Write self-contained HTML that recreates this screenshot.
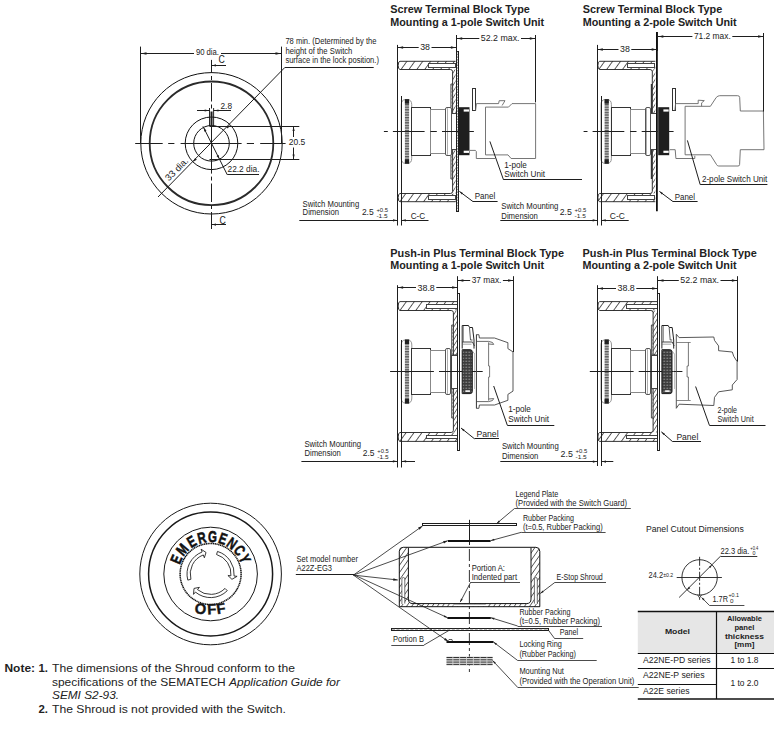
<!DOCTYPE html>
<html><head><meta charset="utf-8"><style>
html,body{margin:0;padding:0;background:#fff;}
svg{display:block;font-family:"Liberation Sans",sans-serif;}
</style></head><body>
<svg width="774" height="729" viewBox="0 0 774 729">
<rect width="774" height="729" fill="#fff"/>
<defs>
<pattern id="hatch" patternUnits="userSpaceOnUse" width="6.4" height="6.4" patternTransform="rotate(36)">
<rect width="6.4" height="6.4" fill="#fff"/><line x1="0" y1="0" x2="0" y2="6.4" stroke="#111" stroke-width="1.35"/></pattern>
<pattern id="ribs" patternUnits="userSpaceOnUse" width="4" height="2.6">
<rect width="4" height="2.6" fill="#555"/><rect y="1.4" width="4" height="1.0" fill="#e0e0e0"/></pattern>
<pattern id="hatchv" patternUnits="userSpaceOnUse" width="3.3" height="3.3" patternTransform="rotate(32)">
<rect width="3.3" height="3.3" fill="#fff"/><line x1="0" y1="0" x2="0" y2="3.3" stroke="#111" stroke-width="1.1"/></pattern>
<pattern id="grid" patternUnits="userSpaceOnUse" width="3" height="3">
<rect width="3" height="3" fill="#3c3c3c"/><rect x="0.4" y="0.7" width="1.8" height="1.1" fill="#8a8a8a"/></pattern>
</defs>
<path d="M400.00,61.30 L455.60,61.30 L455.60,69.50 L400.00,69.50 Q398.20,69.50 398.20,65.40 Q398.20,61.30 400.00,61.30 Z" fill="url(#hatch)" stroke="#1e1e1e" stroke-width="0" stroke="none"/>
<path d="M452.60,69.50 L455.60,69.50 L455.60,113.50 L452.60,113.50 Z" fill="url(#hatchv)" stroke="#1e1e1e" stroke-width="0" stroke="none"/>
<path d="M455.60,61.30 L400.00,61.30 Q398.20,61.30 398.20,65.40 Q398.20,69.50 400.00,69.50 L450.40,69.50 Q452.60,69.50 452.60,71.70 L452.60,113.50 L455.60,113.50" fill="none" stroke="#1e1e1e" stroke-width="0.9" />
<rect x="428.50" y="63.50" width="27.00" height="4.00" fill="#fff" stroke="#444" stroke-width="1.0" />
<path d="M452.60,84.00 L450.90,84.00 L450.90,113.50 L452.60,113.50" fill="none" stroke="#222" stroke-width="0.8" />
<line x1="451.75" y1="84.00" x2="451.75" y2="113.50" stroke="#666" stroke-width="0.6" stroke-dasharray="2,1.5"/>
<path d="M400.00,201.70 L455.60,201.70 L455.60,193.50 L400.00,193.50 Q398.20,193.50 398.20,197.60 Q398.20,201.70 400.00,201.70 Z" fill="url(#hatch)" stroke="#1e1e1e" stroke-width="0" stroke="none"/>
<path d="M452.60,193.50 L455.60,193.50 L455.60,149.50 L452.60,149.50 Z" fill="url(#hatchv)" stroke="#1e1e1e" stroke-width="0" stroke="none"/>
<path d="M455.60,201.70 L400.00,201.70 Q398.20,201.70 398.20,197.60 Q398.20,193.50 400.00,193.50 L450.40,193.50 Q452.60,193.50 452.60,191.30 L452.60,149.50 L455.60,149.50" fill="none" stroke="#1e1e1e" stroke-width="0.9" />
<rect x="428.50" y="195.50" width="27.00" height="4.00" fill="#fff" stroke="#444" stroke-width="1.0" />
<path d="M452.60,179.00 L450.90,179.00 L450.90,149.50 L452.60,149.50" fill="none" stroke="#222" stroke-width="0.8" />
<line x1="451.75" y1="179.00" x2="451.75" y2="149.50" stroke="#666" stroke-width="0.6" stroke-dasharray="2,1.5"/>
<rect x="451.50" y="113.50" width="5.00" height="36.00" fill="#fff" stroke="#444" stroke-width="1.0" />
<rect x="456.50" y="51.50" width="2.00" height="160.00" fill="#fff" stroke="#1e1e1e" stroke-width="1.0" />
<line x1="457.45" y1="51" x2="457.45" y2="211.2" stroke="#444" stroke-width="0.6" stroke-dasharray="1.5,1.2"/>
<rect x="401.30" y="99.70" width="10.40" height="63.60" fill="#fff" stroke="#1e1e1e" stroke-width="0" rx="4"/>
<path d="M405.30,99.70 L407.70,99.70 Q411.70,99.70 411.70,104.70 L411.70,158.30 Q411.70,163.30 407.70,163.30 L405.30,163.30 Q401.30,163.30 401.30,158.30 L401.30,104.70 Q401.30,99.70 405.30,99.70 Z" fill="none" stroke="#888" stroke-width="0.9" />
<rect x="404.90" y="99.20" width="4.20" height="64.60" fill="url(#ribs)" stroke="#1e1e1e" stroke-width="0" />
<rect x="404.90" y="99.20" width="4.20" height="4.50" fill="#222" stroke="#1e1e1e" stroke-width="0" />
<rect x="404.90" y="159.30" width="4.20" height="4.50" fill="#222" stroke="#1e1e1e" stroke-width="0" />
<rect x="411.50" y="107.50" width="19.00" height="48.00" fill="#fff" stroke="#333" stroke-width="1.0" />
<rect x="430.50" y="109.50" width="15.00" height="44.00" fill="#fff" stroke="#888" stroke-width="1.0" />
<rect x="445.50" y="107.50" width="6.00" height="48.00" fill="#fff" stroke="#555" stroke-width="1.0" rx="1.5"/>
<line x1="447.50" y1="108.20" x2="447.50" y2="154.80" stroke="#777" stroke-width="0.6" />
<line x1="383.90" y1="131.50" x2="387.80" y2="131.50" stroke="#1e1e1e" stroke-width="1.0" />
<line x1="392.90" y1="131.50" x2="424.60" y2="131.50" stroke="#1e1e1e" stroke-width="1.0" />
<line x1="430.40" y1="131.50" x2="436.80" y2="131.50" stroke="#1e1e1e" stroke-width="1.0" />
<line x1="442.00" y1="131.50" x2="458.00" y2="131.50" stroke="#1e1e1e" stroke-width="1.0" />
<line x1="469.10" y1="131.50" x2="473.70" y2="131.50" stroke="#1e1e1e" stroke-width="1.0" />
<rect x="458.50" y="107.20" width="11.00" height="48.00" fill="#1e1e1e" stroke="#1e1e1e" stroke-width="0" />
<rect x="463.70" y="109.40" width="5.30" height="2.20" fill="#fff" stroke="#1e1e1e" stroke-width="0" />
<rect x="463.70" y="150.70" width="5.30" height="2.20" fill="#fff" stroke="#1e1e1e" stroke-width="0" />
<rect x="472.50" y="88.50" width="3.00" height="22.00" fill="#fff" stroke="#333" stroke-width="1.0" />
<line x1="469.50" y1="131.50" x2="473.60" y2="131.50" stroke="#1e1e1e" stroke-width="1.0" />
<path d="M475.6,110.6 L476.4,103.6 L498.6,103.6 L499.2,100.7 L505,100.7 L502.1,105.5 M485.5,107.1 L508.5,107.1 L512,103.6 L535.6,103.6 L535.6,158.5 L511.1,158.5 L508,154.9 L485.5,154.9 L485.5,107.1 M470,150.4 L475.4,150.4 L476.3,151.5 L476.3,158.5 L495.3,158.5" fill="none" stroke="#666" stroke-width="0.9" />
<path d="M599.70,61.30 L655.30,61.30 L655.30,69.50 L599.70,69.50 Q597.90,69.50 597.90,65.40 Q597.90,61.30 599.70,61.30 Z" fill="url(#hatch)" stroke="#1e1e1e" stroke-width="0" stroke="none"/>
<path d="M652.30,69.50 L655.30,69.50 L655.30,113.50 L652.30,113.50 Z" fill="url(#hatchv)" stroke="#1e1e1e" stroke-width="0" stroke="none"/>
<path d="M655.30,61.30 L599.70,61.30 Q597.90,61.30 597.90,65.40 Q597.90,69.50 599.70,69.50 L650.10,69.50 Q652.30,69.50 652.30,71.70 L652.30,113.50 L655.30,113.50" fill="none" stroke="#1e1e1e" stroke-width="0.9" />
<rect x="627.50" y="63.50" width="27.00" height="4.00" fill="#fff" stroke="#444" stroke-width="1.0" />
<rect x="650.80" y="84.00" width="1.50" height="29.50" fill="#333" stroke="#1e1e1e" stroke-width="0" />
<path d="M599.70,201.70 L655.30,201.70 L655.30,193.50 L599.70,193.50 Q597.90,193.50 597.90,197.60 Q597.90,201.70 599.70,201.70 Z" fill="url(#hatch)" stroke="#1e1e1e" stroke-width="0" stroke="none"/>
<path d="M652.30,193.50 L655.30,193.50 L655.30,149.50 L652.30,149.50 Z" fill="url(#hatchv)" stroke="#1e1e1e" stroke-width="0" stroke="none"/>
<path d="M655.30,201.70 L599.70,201.70 Q597.90,201.70 597.90,197.60 Q597.90,193.50 599.70,193.50 L650.10,193.50 Q652.30,193.50 652.30,191.30 L652.30,149.50 L655.30,149.50" fill="none" stroke="#1e1e1e" stroke-width="0.9" />
<rect x="627.50" y="195.50" width="27.00" height="4.00" fill="#fff" stroke="#444" stroke-width="1.0" />
<rect x="650.80" y="149.50" width="1.50" height="29.50" fill="#333" stroke="#1e1e1e" stroke-width="0" />
<rect x="650.50" y="113.50" width="6.00" height="36.00" fill="#fff" stroke="#444" stroke-width="1.0" />
<line x1="656.90" y1="32.00" x2="656.90" y2="211.20" stroke="#111" stroke-width="1.8" />
<rect x="601.00" y="99.70" width="10.40" height="63.60" fill="#fff" stroke="#1e1e1e" stroke-width="0" rx="4"/>
<path d="M605.00,99.70 L607.40,99.70 Q611.40,99.70 611.40,104.70 L611.40,158.30 Q611.40,163.30 607.40,163.30 L605.00,163.30 Q601.00,163.30 601.00,158.30 L601.00,104.70 Q601.00,99.70 605.00,99.70 Z" fill="none" stroke="#888" stroke-width="0.9" />
<rect x="604.60" y="99.20" width="4.20" height="64.60" fill="url(#ribs)" stroke="#1e1e1e" stroke-width="0" />
<rect x="604.60" y="99.20" width="4.20" height="4.50" fill="#222" stroke="#1e1e1e" stroke-width="0" />
<rect x="604.60" y="159.30" width="4.20" height="4.50" fill="#222" stroke="#1e1e1e" stroke-width="0" />
<rect x="611.50" y="107.50" width="19.00" height="48.00" fill="#fff" stroke="#333" stroke-width="1.0" />
<rect x="630.50" y="109.50" width="15.00" height="44.00" fill="#fff" stroke="#888" stroke-width="1.0" />
<rect x="645.50" y="107.50" width="5.00" height="48.00" fill="#fff" stroke="#555" stroke-width="1.0" rx="1.5"/>
<line x1="646.50" y1="108.20" x2="646.50" y2="154.80" stroke="#777" stroke-width="0.6" />
<line x1="583.60" y1="131.50" x2="587.50" y2="131.50" stroke="#1e1e1e" stroke-width="1.0" />
<line x1="592.60" y1="131.50" x2="624.30" y2="131.50" stroke="#1e1e1e" stroke-width="1.0" />
<line x1="630.10" y1="131.50" x2="636.50" y2="131.50" stroke="#1e1e1e" stroke-width="1.0" />
<line x1="641.70" y1="131.50" x2="657.70" y2="131.50" stroke="#1e1e1e" stroke-width="1.0" />
<line x1="668.80" y1="131.50" x2="673.40" y2="131.50" stroke="#1e1e1e" stroke-width="1.0" />
<rect x="658.20" y="107.20" width="11.00" height="48.00" fill="#1e1e1e" stroke="#1e1e1e" stroke-width="0" />
<rect x="663.40" y="109.40" width="5.30" height="2.20" fill="#fff" stroke="#1e1e1e" stroke-width="0" />
<rect x="663.40" y="150.70" width="5.30" height="2.20" fill="#fff" stroke="#1e1e1e" stroke-width="0" />
<rect x="672.50" y="88.50" width="3.00" height="22.00" fill="#fff" stroke="#333" stroke-width="1.0" />
<line x1="669.20" y1="131.50" x2="673.30" y2="131.50" stroke="#1e1e1e" stroke-width="1.0" />
<path d="M674.9,110.4 L675.5999999999999,103.6 L698.2,103.6 L698.2,100.2 L704.3,100.6 L701.5999999999999,102.9 L701.5999999999999,106.3 M685.0999999999999,106.3 L710.4,106.3 L716.2,97.5 Q717.9000000000001,95.7 719.7,95.7 L737.7,95.7 Q739.5999999999999,95.7 739.7,97.5 L740.3,111 L763.4000000000001,111 L764.0,149.7 L740.3,149.7 L739.5999999999999,164.5 Q739.5999999999999,166 738.0,166 L718.7,166 Q717.2,166 716.5,164.5 L710.4,154.8 L685.0999999999999,154.8 L685.0999999999999,106.3 M669.7,149.7 L675.2,149.7 L675.9,158.5 L694.8,158.5 L694.8,155.8" fill="none" stroke="#666" stroke-width="0.9" />
<path d="M400.00,301.60 L457.80,301.60 L457.80,310.50 L400.00,310.50 Q398.20,310.50 398.20,306.05 Q398.20,301.60 400.00,301.60 Z" fill="url(#hatch)" stroke="#1e1e1e" stroke-width="0" stroke="none"/>
<path d="M453.40,310.50 L457.80,310.50 L457.80,355.00 L453.40,355.00 Z" fill="url(#hatchv)" stroke="#1e1e1e" stroke-width="0" stroke="none"/>
<path d="M457.80,301.60 L400.00,301.60 Q398.20,301.60 398.20,306.05 Q398.20,310.50 400.00,310.50 L451.20,310.50 Q453.40,310.50 453.40,312.70 L453.40,355.00 L457.80,355.00" fill="none" stroke="#1e1e1e" stroke-width="0.9" />
<rect x="426.50" y="304.50" width="31.00" height="4.00" fill="#fff" stroke="#444" stroke-width="1.0" />
<path d="M453.40,325.00 L451.70,325.00 L451.70,355.00 L453.40,355.00" fill="none" stroke="#222" stroke-width="0.8" />
<line x1="452.55" y1="325.00" x2="452.55" y2="355.00" stroke="#666" stroke-width="0.6" stroke-dasharray="2,1.5"/>
<path d="M400.00,441.40 L457.80,441.40 L457.80,432.50 L400.00,432.50 Q398.20,432.50 398.20,436.95 Q398.20,441.40 400.00,441.40 Z" fill="url(#hatch)" stroke="#1e1e1e" stroke-width="0" stroke="none"/>
<path d="M453.40,432.50 L457.80,432.50 L457.80,388.00 L453.40,388.00 Z" fill="url(#hatchv)" stroke="#1e1e1e" stroke-width="0" stroke="none"/>
<path d="M457.80,441.40 L400.00,441.40 Q398.20,441.40 398.20,436.95 Q398.20,432.50 400.00,432.50 L451.20,432.50 Q453.40,432.50 453.40,430.30 L453.40,388.00 L457.80,388.00" fill="none" stroke="#1e1e1e" stroke-width="0.9" />
<rect x="426.50" y="435.50" width="31.00" height="3.00" fill="#fff" stroke="#444" stroke-width="1.0" />
<path d="M453.40,418.00 L451.70,418.00 L451.70,388.00 L453.40,388.00" fill="none" stroke="#222" stroke-width="0.8" />
<line x1="452.55" y1="418.00" x2="452.55" y2="388.00" stroke="#666" stroke-width="0.6" stroke-dasharray="2,1.5"/>
<rect x="451.50" y="355.50" width="6.00" height="33.00" fill="#fff" stroke="#444" stroke-width="1.0" />
<rect x="457.50" y="293.50" width="2.00" height="157.00" fill="#fff" stroke="#222" stroke-width="1.0" />
<rect x="401.30" y="340.00" width="10.50" height="63.00" fill="#fff" stroke="#1e1e1e" stroke-width="0" rx="4"/>
<path d="M405.30,340.00 L407.80,340.00 Q411.80,340.00 411.80,345.00 L411.80,398.00 Q411.80,403.00 407.80,403.00 L405.30,403.00 Q401.30,403.00 401.30,398.00 L401.30,345.00 Q401.30,340.00 405.30,340.00 Z" fill="none" stroke="#888" stroke-width="0.9" />
<rect x="404.90" y="339.50" width="4.20" height="64.00" fill="url(#ribs)" stroke="#1e1e1e" stroke-width="0" />
<rect x="404.90" y="339.50" width="4.20" height="4.50" fill="#222" stroke="#1e1e1e" stroke-width="0" />
<rect x="404.90" y="399.00" width="4.20" height="4.50" fill="#222" stroke="#1e1e1e" stroke-width="0" />
<rect x="411.50" y="348.50" width="19.00" height="46.00" fill="#fff" stroke="#333" stroke-width="1.0" />
<rect x="430.50" y="350.50" width="15.00" height="42.00" fill="#fff" stroke="#888" stroke-width="1.0" />
<rect x="445.50" y="348.50" width="5.00" height="46.00" fill="#fff" stroke="#555" stroke-width="1.0" rx="1.5"/>
<line x1="447.50" y1="349.10" x2="447.50" y2="393.90" stroke="#777" stroke-width="0.6" />
<line x1="390.10" y1="371.50" x2="433.90" y2="371.50" stroke="#1e1e1e" stroke-width="1.0" />
<line x1="439.00" y1="371.50" x2="474.00" y2="371.50" stroke="#1e1e1e" stroke-width="1.0" />
<path d="M462.20,348.60 L462.20,325.50 L468.50,325.50 L469.50,327.50 L472.50,327.50 L474.00,340.00 L474.00,348.60" fill="none" stroke="#222" stroke-width="1.0" />
<line x1="463.50" y1="326.00" x2="463.50" y2="342.00" stroke="#555" stroke-width="0.6" />
<path d="M469.50,328.00 L470.50,340.00 L472.50,340.00" fill="none" stroke="#333" stroke-width="0.8" />
<path d="M462.20,342.00 L472.50,342.00 L474.50,346.00" fill="none" stroke="#333" stroke-width="0.9" />
<path d="M462.20,344.20 L471.50,344.20" fill="none" stroke="#666" stroke-width="0.6" />
<rect x="462.20" y="349.70" width="10.10" height="43.90" fill="url(#grid)" stroke="#1e1e1e" stroke-width="0" rx="2"/>
<path d="M462.20,349.70 L470.20,349.70 Q472.30,349.70 472.30,352.00 L472.30,391.50 Q472.30,393.60 470.20,393.60 L462.20,393.60 Z" fill="none" stroke="#1a1a1a" stroke-width="1.0" />
<rect x="465.40" y="390.30" width="4.50" height="1.60" fill="#fff" stroke="#1e1e1e" stroke-width="0" />
<line x1="472.30" y1="351.00" x2="474.70" y2="354.00" stroke="#777" stroke-width="0.6" />
<line x1="474.50" y1="354.00" x2="474.50" y2="389.00" stroke="#999" stroke-width="0.6" />
<line x1="474.00" y1="371.50" x2="482.70" y2="371.50" stroke="#1e1e1e" stroke-width="1.0" />
<path d="M476.40,408.30 476.40,334.70 L478.90,334.70 L479.40,338.00 L494.50,338.00 L507.90,342.70 L507.90,348.60 L513.00,351.90 L513.00,391.10 L507.90,394.40 L507.90,400.30 L494.50,405.00 L479.40,405.00 L478.90,408.30 L476.40,408.30" fill="none" stroke="#444" stroke-width="0.9" />
<line x1="476.50" y1="334.70" x2="476.50" y2="408.30" stroke="#444" stroke-width="0.9" />
<path d="M476.4,341.4 L488.6,341.4 Q493.7,342 493.7,344.4 L488.6,344" fill="none" stroke="#444" stroke-width="0.8" />
<path d="M476.4,401.6 L488.6,401.6 Q493.7,401.0 493.7,398.6 L488.6,399.0" fill="none" stroke="#444" stroke-width="0.8" />
<path d="M488.6,342.3 L488.6,366 L489.6,366 L489.6,377 L488.6,377 L488.6,400.7" fill="none" stroke="#555" stroke-width="0.8" />
<path d="M599.70,301.60 L657.50,301.60 L657.50,310.50 L599.70,310.50 Q597.90,310.50 597.90,306.05 Q597.90,301.60 599.70,301.60 Z" fill="url(#hatch)" stroke="#1e1e1e" stroke-width="0" stroke="none"/>
<path d="M653.10,310.50 L657.50,310.50 L657.50,355.00 L653.10,355.00 Z" fill="url(#hatchv)" stroke="#1e1e1e" stroke-width="0" stroke="none"/>
<path d="M657.50,301.60 L599.70,301.60 Q597.90,301.60 597.90,306.05 Q597.90,310.50 599.70,310.50 L650.90,310.50 Q653.10,310.50 653.10,312.70 L653.10,355.00 L657.50,355.00" fill="none" stroke="#1e1e1e" stroke-width="0.9" />
<rect x="626.50" y="304.50" width="31.00" height="4.00" fill="#fff" stroke="#444" stroke-width="1.0" />
<path d="M653.10,325.00 L651.40,325.00 L651.40,355.00 L653.10,355.00" fill="none" stroke="#222" stroke-width="0.8" />
<line x1="652.25" y1="325.00" x2="652.25" y2="355.00" stroke="#666" stroke-width="0.6" stroke-dasharray="2,1.5"/>
<path d="M599.70,441.40 L657.50,441.40 L657.50,432.50 L599.70,432.50 Q597.90,432.50 597.90,436.95 Q597.90,441.40 599.70,441.40 Z" fill="url(#hatch)" stroke="#1e1e1e" stroke-width="0" stroke="none"/>
<path d="M653.10,432.50 L657.50,432.50 L657.50,388.00 L653.10,388.00 Z" fill="url(#hatchv)" stroke="#1e1e1e" stroke-width="0" stroke="none"/>
<path d="M657.50,441.40 L599.70,441.40 Q597.90,441.40 597.90,436.95 Q597.90,432.50 599.70,432.50 L650.90,432.50 Q653.10,432.50 653.10,430.30 L653.10,388.00 L657.50,388.00" fill="none" stroke="#1e1e1e" stroke-width="0.9" />
<rect x="626.50" y="435.50" width="31.00" height="3.00" fill="#fff" stroke="#444" stroke-width="1.0" />
<path d="M653.10,418.00 L651.40,418.00 L651.40,388.00 L653.10,388.00" fill="none" stroke="#222" stroke-width="0.8" />
<line x1="652.25" y1="418.00" x2="652.25" y2="388.00" stroke="#666" stroke-width="0.6" stroke-dasharray="2,1.5"/>
<rect x="651.50" y="355.50" width="6.00" height="33.00" fill="#fff" stroke="#444" stroke-width="1.0" />
<rect x="657.50" y="293.50" width="2.00" height="157.00" fill="#fff" stroke="#222" stroke-width="1.0" />
<rect x="601.00" y="340.00" width="10.50" height="63.00" fill="#fff" stroke="#1e1e1e" stroke-width="0" rx="4"/>
<path d="M605.00,340.00 L607.50,340.00 Q611.50,340.00 611.50,345.00 L611.50,398.00 Q611.50,403.00 607.50,403.00 L605.00,403.00 Q601.00,403.00 601.00,398.00 L601.00,345.00 Q601.00,340.00 605.00,340.00 Z" fill="none" stroke="#888" stroke-width="0.9" />
<rect x="604.60" y="339.50" width="4.20" height="64.00" fill="url(#ribs)" stroke="#1e1e1e" stroke-width="0" />
<rect x="604.60" y="339.50" width="4.20" height="4.50" fill="#222" stroke="#1e1e1e" stroke-width="0" />
<rect x="604.60" y="399.00" width="4.20" height="4.50" fill="#222" stroke="#1e1e1e" stroke-width="0" />
<rect x="611.50" y="348.50" width="19.00" height="46.00" fill="#fff" stroke="#333" stroke-width="1.0" />
<rect x="630.50" y="350.50" width="15.00" height="42.00" fill="#fff" stroke="#888" stroke-width="1.0" />
<rect x="645.50" y="348.50" width="5.00" height="46.00" fill="#fff" stroke="#555" stroke-width="1.0" rx="1.5"/>
<line x1="647.50" y1="349.10" x2="647.50" y2="393.90" stroke="#777" stroke-width="0.6" />
<line x1="589.80" y1="371.50" x2="633.60" y2="371.50" stroke="#1e1e1e" stroke-width="1.0" />
<line x1="638.70" y1="371.50" x2="673.70" y2="371.50" stroke="#1e1e1e" stroke-width="1.0" />
<path d="M661.90,348.60 L661.90,325.50 L668.20,325.50 L669.20,327.50 L672.20,327.50 L673.70,340.00 L673.70,348.60" fill="none" stroke="#222" stroke-width="1.0" />
<line x1="663.50" y1="326.00" x2="663.50" y2="342.00" stroke="#555" stroke-width="0.6" />
<path d="M669.20,328.00 L670.20,340.00 L672.20,340.00" fill="none" stroke="#333" stroke-width="0.8" />
<path d="M661.90,342.00 L672.20,342.00 L674.20,346.00" fill="none" stroke="#333" stroke-width="0.9" />
<path d="M661.90,344.20 L671.20,344.20" fill="none" stroke="#666" stroke-width="0.6" />
<rect x="661.90" y="349.70" width="10.10" height="43.90" fill="url(#grid)" stroke="#1e1e1e" stroke-width="0" rx="2"/>
<path d="M661.90,349.70 L669.90,349.70 Q672.00,349.70 672.00,352.00 L672.00,391.50 Q672.00,393.60 669.90,393.60 L661.90,393.60 Z" fill="none" stroke="#1a1a1a" stroke-width="1.0" />
<rect x="665.10" y="390.30" width="4.50" height="1.60" fill="#fff" stroke="#1e1e1e" stroke-width="0" />
<line x1="672.00" y1="351.00" x2="674.40" y2="354.00" stroke="#777" stroke-width="0.6" />
<line x1="674.50" y1="354.00" x2="674.50" y2="389.00" stroke="#999" stroke-width="0.6" />
<line x1="673.70" y1="371.50" x2="682.40" y2="371.50" stroke="#1e1e1e" stroke-width="1.0" />
<path d="M676.3,408.3 L676.3,334.2 L679.0999999999999,337.6 L713.8,337 L714.5,340.4 L718.5999999999999,345.9 L718.5999999999999,350.7 L732.3,352 L733.7,356.2 L737.0999999999999,361.6 L737.0999999999999,379.5 L732.3,385 L732.3,389.8 L718.5999999999999,391.8 L714.5,397.3 L713.8,405.5 L679.0999999999999,404.2 L676.3,408.3" fill="none" stroke="#444" stroke-width="0.9" />
<path d="M688.4,342.4 L688.4,366 L687.0999999999999,366 L687.0999999999999,377 L688.4,377 L688.4,400" fill="none" stroke="#555" stroke-width="0.8" />
<line x1="676.30" y1="342.50" x2="690.70" y2="342.50" stroke="#555" stroke-width="0.7" />
<line x1="676.30" y1="400.50" x2="690.70" y2="400.50" stroke="#555" stroke-width="0.7" />
<text x="390.30" y="13.40" font-size="11.6" textLength="139.50" lengthAdjust="spacingAndGlyphs" font-weight="bold" fill="#222" >Screw Terminal Block Type</text>
<text x="390.30" y="25.80" font-size="11.6" textLength="153.80" lengthAdjust="spacingAndGlyphs" font-weight="bold" fill="#222" >Mounting a 1-pole Switch Unit</text>
<line x1="397.50" y1="44.90" x2="397.50" y2="225.50" stroke="#1e1e1e" stroke-width="1.0" />
<line x1="456.50" y1="35.00" x2="456.50" y2="51.00" stroke="#1e1e1e" stroke-width="1.0" />
<line x1="397.60" y1="47.50" x2="418.70" y2="47.50" stroke="#1e1e1e" stroke-width="1.0" />
<line x1="431.50" y1="47.50" x2="456.40" y2="47.50" stroke="#1e1e1e" stroke-width="1.0" />
<path d="M398.10,47.50 L403.10,46.25 L403.10,48.75 Z" fill="#1e1e1e"/>
<path d="M455.90,47.50 L450.90,48.75 L450.90,46.25 Z" fill="#1e1e1e"/>
<text x="420.20" y="50.40" font-size="9.27" textLength="9.80" lengthAdjust="spacingAndGlyphs" fill="#222" >38</text>
<line x1="456.70" y1="38.50" x2="479.30" y2="38.50" stroke="#1e1e1e" stroke-width="1.0" />
<line x1="521.00" y1="38.50" x2="535.30" y2="38.50" stroke="#1e1e1e" stroke-width="1.0" />
<path d="M457.20,38.50 L462.20,37.25 L462.20,39.75 Z" fill="#1e1e1e"/>
<path d="M534.80,38.50 L529.80,39.75 L529.80,37.25 Z" fill="#1e1e1e"/>
<text x="480.80" y="40.90" font-size="9.27" textLength="38.70" lengthAdjust="spacingAndGlyphs" fill="#222" >52.2 max.</text>
<line x1="535.50" y1="35.00" x2="535.50" y2="102.40" stroke="#1e1e1e" stroke-width="1.0" />
<line x1="401.50" y1="96.00" x2="401.50" y2="225.50" stroke="#1e1e1e" stroke-width="1.0" />
<line x1="299.30" y1="220.50" x2="397.60" y2="220.50" stroke="#1e1e1e" stroke-width="1.0" />
<path d="M397.20,220.30 L393.00,221.40 L393.00,219.20 Z" fill="#1e1e1e"/>
<line x1="401.60" y1="220.50" x2="428.50" y2="220.50" stroke="#1e1e1e" stroke-width="1.0" />
<path d="M401.70,220.30 L405.90,219.20 L405.90,221.40 Z" fill="#1e1e1e"/>
<text x="302.60" y="207.10" font-size="9.94" textLength="56.60" lengthAdjust="spacingAndGlyphs" fill="#222" >Switch Mounting</text>
<text x="302.60" y="215.30" font-size="9.94" textLength="36.40" lengthAdjust="spacingAndGlyphs" fill="#222" >Dimension</text>
<text x="361.90" y="215.30" font-size="9.72" textLength="11.80" lengthAdjust="spacingAndGlyphs" fill="#222" >2.5</text>
<text x="376.40" y="211.80" font-size="5.6" textLength="11.70" lengthAdjust="spacingAndGlyphs" fill="#222" >+0.5</text>
<text x="376.40" y="217.60" font-size="5.6" textLength="11.20" lengthAdjust="spacingAndGlyphs" fill="#222" >-1.5</text>
<text x="410.70" y="218.50" font-size="9.83" textLength="14.50" lengthAdjust="spacingAndGlyphs" fill="#222" >C-C</text>
<text x="474.70" y="199.30" font-size="9.49" textLength="20.50" lengthAdjust="spacingAndGlyphs" fill="#222" >Panel</text>
<line x1="459.40" y1="191.40" x2="473.00" y2="201.60" stroke="#1e1e1e" stroke-width="1.0" />
<line x1="473.00" y1="201.50" x2="497.60" y2="201.50" stroke="#1e1e1e" stroke-width="1.0" />
<path d="M459.60,191.60 L463.00,192.91 L461.79,194.50 Z" fill="#1e1e1e"/>
<text x="504.30" y="167.60" font-size="9.27" textLength="22.60" lengthAdjust="spacingAndGlyphs" fill="#222" >1-pole</text>
<text x="504.30" y="177.10" font-size="9.27" textLength="40.80" lengthAdjust="spacingAndGlyphs" fill="#222" >Switch Unit</text>
<line x1="489.90" y1="141.40" x2="503.50" y2="179.80" stroke="#1e1e1e" stroke-width="1.0" />
<line x1="503.50" y1="179.50" x2="582.00" y2="179.50" stroke="#1e1e1e" stroke-width="1.0" />
<text x="582.70" y="13.20" font-size="11.6" textLength="139.60" lengthAdjust="spacingAndGlyphs" font-weight="bold" fill="#222" >Screw Terminal Block Type</text>
<text x="582.70" y="25.60" font-size="11.6" textLength="153.90" lengthAdjust="spacingAndGlyphs" font-weight="bold" fill="#222" >Mounting a 2-pole Switch Unit</text>
<line x1="597.50" y1="44.90" x2="597.50" y2="225.50" stroke="#1e1e1e" stroke-width="1.0" />
<line x1="657.50" y1="32.00" x2="657.50" y2="51.00" stroke="#1e1e1e" stroke-width="1.0" />
<line x1="597.30" y1="49.50" x2="618.50" y2="49.50" stroke="#1e1e1e" stroke-width="1.0" />
<line x1="631.30" y1="49.50" x2="657.20" y2="49.50" stroke="#1e1e1e" stroke-width="1.0" />
<path d="M597.80,49.50 L602.80,48.25 L602.80,50.75 Z" fill="#1e1e1e"/>
<path d="M656.70,49.50 L651.70,50.75 L651.70,48.25 Z" fill="#1e1e1e"/>
<text x="620.00" y="52.10" font-size="9.27" textLength="9.80" lengthAdjust="spacingAndGlyphs" fill="#222" >38</text>
<line x1="657.80" y1="36.50" x2="692.40" y2="36.50" stroke="#1e1e1e" stroke-width="1.0" />
<line x1="732.30" y1="36.50" x2="763.60" y2="36.50" stroke="#1e1e1e" stroke-width="1.0" />
<path d="M658.30,36.50 L663.30,35.25 L663.30,37.75 Z" fill="#1e1e1e"/>
<path d="M763.10,36.50 L758.10,37.75 L758.10,35.25 Z" fill="#1e1e1e"/>
<text x="693.90" y="39.10" font-size="9.27" textLength="36.90" lengthAdjust="spacingAndGlyphs" fill="#222" >71.2 max.</text>
<line x1="763.50" y1="33.00" x2="763.50" y2="111.50" stroke="#1e1e1e" stroke-width="1.0" />
<line x1="601.50" y1="96.00" x2="601.50" y2="225.50" stroke="#1e1e1e" stroke-width="1.0" />
<line x1="500.30" y1="220.50" x2="597.30" y2="220.50" stroke="#1e1e1e" stroke-width="1.0" />
<path d="M596.90,220.30 L592.70,221.40 L592.70,219.20 Z" fill="#1e1e1e"/>
<line x1="601.50" y1="220.50" x2="628.70" y2="220.50" stroke="#1e1e1e" stroke-width="1.0" />
<path d="M601.60,220.30 L605.80,219.20 L605.80,221.40 Z" fill="#1e1e1e"/>
<text x="501.30" y="209.10" font-size="9.94" textLength="57.00" lengthAdjust="spacingAndGlyphs" fill="#222" >Switch Mounting</text>
<text x="501.30" y="218.50" font-size="9.94" textLength="36.60" lengthAdjust="spacingAndGlyphs" fill="#222" >Dimension</text>
<text x="559.70" y="215.30" font-size="9.72" textLength="12.20" lengthAdjust="spacingAndGlyphs" fill="#222" >2.5</text>
<text x="574.60" y="211.80" font-size="5.6" textLength="11.70" lengthAdjust="spacingAndGlyphs" fill="#222" >+0.5</text>
<text x="574.60" y="217.60" font-size="5.6" textLength="11.20" lengthAdjust="spacingAndGlyphs" fill="#222" >-1.5</text>
<text x="609.80" y="218.50" font-size="9.83" textLength="15.00" lengthAdjust="spacingAndGlyphs" fill="#222" >C-C</text>
<text x="674.70" y="199.60" font-size="9.49" textLength="20.30" lengthAdjust="spacingAndGlyphs" fill="#222" >Panel</text>
<line x1="659.40" y1="191.40" x2="673.00" y2="201.60" stroke="#1e1e1e" stroke-width="1.0" />
<line x1="673.00" y1="201.50" x2="697.60" y2="201.50" stroke="#1e1e1e" stroke-width="1.0" />
<path d="M659.60,191.60 L663.00,192.91 L661.79,194.50 Z" fill="#1e1e1e"/>
<text x="701.90" y="181.50" font-size="9.27" textLength="65.50" lengthAdjust="spacingAndGlyphs" fill="#222" >2-pole Switch Unit</text>
<line x1="687.40" y1="140.40" x2="700.20" y2="184.60" stroke="#1e1e1e" stroke-width="1.0" />
<line x1="700.20" y1="184.50" x2="767.40" y2="184.50" stroke="#1e1e1e" stroke-width="1.0" />
<text x="390.30" y="256.80" font-size="11.6" textLength="173.70" lengthAdjust="spacingAndGlyphs" font-weight="bold" fill="#222" >Push-in Plus Terminal Block Type</text>
<text x="390.30" y="269.00" font-size="11.6" textLength="153.70" lengthAdjust="spacingAndGlyphs" font-weight="bold" fill="#222" >Mounting a 1-pole Switch Unit</text>
<line x1="397.50" y1="285.20" x2="397.50" y2="467.50" stroke="#1e1e1e" stroke-width="1.0" />
<line x1="457.50" y1="276.20" x2="457.50" y2="293.50" stroke="#1e1e1e" stroke-width="1.0" />
<line x1="397.60" y1="287.50" x2="416.00" y2="287.50" stroke="#1e1e1e" stroke-width="1.0" />
<line x1="436.30" y1="287.50" x2="457.60" y2="287.50" stroke="#1e1e1e" stroke-width="1.0" />
<path d="M398.10,287.50 L403.10,286.25 L403.10,288.75 Z" fill="#1e1e1e"/>
<path d="M457.10,287.50 L452.10,288.75 L452.10,286.25 Z" fill="#1e1e1e"/>
<text x="417.50" y="290.70" font-size="9.27" textLength="17.30" lengthAdjust="spacingAndGlyphs" fill="#222" >38.8</text>
<line x1="457.90" y1="280.50" x2="470.20" y2="280.50" stroke="#1e1e1e" stroke-width="1.0" />
<line x1="502.90" y1="280.50" x2="513.60" y2="280.50" stroke="#1e1e1e" stroke-width="1.0" />
<path d="M458.40,280.50 L463.40,279.25 L463.40,281.75 Z" fill="#1e1e1e"/>
<path d="M513.10,280.50 L508.10,281.75 L508.10,279.25 Z" fill="#1e1e1e"/>
<text x="471.70" y="282.90" font-size="9.27" textLength="29.70" lengthAdjust="spacingAndGlyphs" fill="#222" >37 max.</text>
<line x1="513.50" y1="276.20" x2="513.50" y2="352.00" stroke="#1e1e1e" stroke-width="1.0" />
<line x1="401.50" y1="340.00" x2="401.50" y2="467.50" stroke="#1e1e1e" stroke-width="1.0" />
<line x1="301.40" y1="461.50" x2="397.50" y2="461.50" stroke="#1e1e1e" stroke-width="1.0" />
<path d="M397.10,461.30 L392.90,462.40 L392.90,460.20 Z" fill="#1e1e1e"/>
<line x1="401.80" y1="461.50" x2="415.00" y2="461.50" stroke="#1e1e1e" stroke-width="1.0" />
<path d="M401.90,461.30 L406.10,460.20 L406.10,462.40 Z" fill="#1e1e1e"/>
<text x="304.40" y="446.80" font-size="9.94" textLength="56.60" lengthAdjust="spacingAndGlyphs" fill="#222" >Switch Mounting</text>
<text x="304.40" y="456.30" font-size="9.94" textLength="36.40" lengthAdjust="spacingAndGlyphs" fill="#222" >Dimension</text>
<text x="362.80" y="456.30" font-size="9.72" textLength="11.80" lengthAdjust="spacingAndGlyphs" fill="#222" >2.5</text>
<text x="377.30" y="453.00" font-size="5.6" textLength="11.40" lengthAdjust="spacingAndGlyphs" fill="#222" >+0.5</text>
<text x="377.30" y="458.80" font-size="5.6" textLength="11.20" lengthAdjust="spacingAndGlyphs" fill="#222" >-1.5</text>
<text x="476.40" y="436.70" font-size="9.49" textLength="22.20" lengthAdjust="spacingAndGlyphs" fill="#222" >Panel</text>
<line x1="461.00" y1="428.00" x2="474.50" y2="438.80" stroke="#1e1e1e" stroke-width="1.0" />
<line x1="474.50" y1="438.50" x2="499.00" y2="438.50" stroke="#1e1e1e" stroke-width="1.0" />
<path d="M461.20,428.20 L464.55,429.63 L463.29,431.18 Z" fill="#1e1e1e"/>
<text x="508.30" y="412.00" font-size="9.27" textLength="22.60" lengthAdjust="spacingAndGlyphs" fill="#222" >1-pole</text>
<text x="508.30" y="422.00" font-size="9.27" textLength="40.80" lengthAdjust="spacingAndGlyphs" fill="#222" >Switch Unit</text>
<line x1="493.70" y1="386.00" x2="507.30" y2="425.20" stroke="#1e1e1e" stroke-width="1.0" />
<line x1="507.30" y1="425.50" x2="554.30" y2="425.50" stroke="#1e1e1e" stroke-width="1.0" />
<text x="582.50" y="256.80" font-size="11.6" textLength="174.20" lengthAdjust="spacingAndGlyphs" font-weight="bold" fill="#222" >Push-in Plus Terminal Block Type</text>
<text x="582.50" y="269.30" font-size="11.6" textLength="154.00" lengthAdjust="spacingAndGlyphs" font-weight="bold" fill="#222" >Mounting a 2-pole Switch Unit</text>
<line x1="597.50" y1="285.20" x2="597.50" y2="466.00" stroke="#1e1e1e" stroke-width="1.0" />
<line x1="657.50" y1="276.20" x2="657.50" y2="293.50" stroke="#1e1e1e" stroke-width="1.0" />
<line x1="597.50" y1="288.50" x2="616.00" y2="288.50" stroke="#1e1e1e" stroke-width="1.0" />
<line x1="636.30" y1="288.50" x2="657.70" y2="288.50" stroke="#1e1e1e" stroke-width="1.0" />
<path d="M598.00,288.50 L603.00,287.25 L603.00,289.75 Z" fill="#1e1e1e"/>
<path d="M657.20,288.50 L652.20,289.75 L652.20,287.25 Z" fill="#1e1e1e"/>
<text x="617.50" y="291.00" font-size="9.27" textLength="17.30" lengthAdjust="spacingAndGlyphs" fill="#222" >38.8</text>
<line x1="658.00" y1="280.50" x2="678.80" y2="280.50" stroke="#1e1e1e" stroke-width="1.0" />
<line x1="720.50" y1="280.50" x2="737.40" y2="280.50" stroke="#1e1e1e" stroke-width="1.0" />
<path d="M658.50,280.50 L663.50,279.25 L663.50,281.75 Z" fill="#1e1e1e"/>
<path d="M736.90,280.50 L731.90,281.75 L731.90,279.25 Z" fill="#1e1e1e"/>
<text x="680.30" y="283.00" font-size="9.27" textLength="38.70" lengthAdjust="spacingAndGlyphs" fill="#222" >52.2 max.</text>
<line x1="737.50" y1="276.20" x2="737.50" y2="361.60" stroke="#1e1e1e" stroke-width="1.0" />
<line x1="601.50" y1="340.00" x2="601.50" y2="466.00" stroke="#1e1e1e" stroke-width="1.0" />
<line x1="500.30" y1="461.50" x2="597.50" y2="461.50" stroke="#1e1e1e" stroke-width="1.0" />
<path d="M597.10,461.60 L592.90,462.70 L592.90,460.50 Z" fill="#1e1e1e"/>
<line x1="601.70" y1="461.50" x2="613.30" y2="461.50" stroke="#1e1e1e" stroke-width="1.0" />
<path d="M601.80,461.60 L606.00,460.50 L606.00,462.70 Z" fill="#1e1e1e"/>
<text x="501.90" y="449.10" font-size="9.94" textLength="56.80" lengthAdjust="spacingAndGlyphs" fill="#222" >Switch Mounting</text>
<text x="501.90" y="458.50" font-size="9.94" textLength="36.50" lengthAdjust="spacingAndGlyphs" fill="#222" >Dimension</text>
<text x="560.50" y="456.70" font-size="9.72" textLength="12.30" lengthAdjust="spacingAndGlyphs" fill="#222" >2.5</text>
<text x="575.50" y="453.20" font-size="5.6" textLength="11.70" lengthAdjust="spacingAndGlyphs" fill="#222" >+0.5</text>
<text x="575.50" y="459.00" font-size="5.6" textLength="11.20" lengthAdjust="spacingAndGlyphs" fill="#222" >-1.5</text>
<text x="676.40" y="440.00" font-size="9.49" textLength="21.90" lengthAdjust="spacingAndGlyphs" fill="#222" >Panel</text>
<line x1="661.30" y1="431.80" x2="672.30" y2="441.40" stroke="#1e1e1e" stroke-width="1.0" />
<line x1="672.30" y1="441.50" x2="701.00" y2="441.50" stroke="#1e1e1e" stroke-width="1.0" />
<path d="M661.50,432.00 L664.80,433.54 L663.49,435.05 Z" fill="#1e1e1e"/>
<text x="717.50" y="412.60" font-size="9.04" textLength="19.50" lengthAdjust="spacingAndGlyphs" fill="#222" >2-pole</text>
<text x="717.50" y="422.20" font-size="9.04" textLength="36.20" lengthAdjust="spacingAndGlyphs" fill="#222" >Switch Unit</text>
<line x1="695.60" y1="386.50" x2="709.30" y2="425.00" stroke="#1e1e1e" stroke-width="1.0" />
<line x1="709.30" y1="425.50" x2="765.50" y2="425.50" stroke="#1e1e1e" stroke-width="1.0" />
<circle cx="211.50" cy="143.30" r="70.70" fill="none" stroke="#111" stroke-width="1.0" />
<circle cx="211.50" cy="143.30" r="61.80" fill="none" stroke="#2a2a2a" stroke-width="1.8" />
<circle cx="211.50" cy="143.30" r="26.30" fill="none" stroke="#111" stroke-width="1.0" />
<circle cx="211.50" cy="143.30" r="17.80" fill="none" stroke="#111" stroke-width="1.0" />
<line x1="135.20" y1="143.50" x2="162.70" y2="143.50" stroke="#1e1e1e" stroke-width="1.0" />
<line x1="168.20" y1="143.50" x2="174.40" y2="143.50" stroke="#1e1e1e" stroke-width="1.0" />
<line x1="180.60" y1="143.50" x2="241.60" y2="143.50" stroke="#1e1e1e" stroke-width="1.0" />
<line x1="246.80" y1="143.50" x2="254.00" y2="143.50" stroke="#1e1e1e" stroke-width="1.0" />
<line x1="260.20" y1="143.50" x2="285.60" y2="143.50" stroke="#1e1e1e" stroke-width="1.0" />
<line x1="211.50" y1="59.90" x2="211.50" y2="73.00" stroke="#1e1e1e" stroke-width="1.0" />
<line x1="211.50" y1="76.00" x2="211.50" y2="80.00" stroke="#1e1e1e" stroke-width="1.0" />
<line x1="211.50" y1="83.00" x2="211.50" y2="101.50" stroke="#1e1e1e" stroke-width="1.0" />
<line x1="211.50" y1="104.50" x2="211.50" y2="108.50" stroke="#1e1e1e" stroke-width="1.0" />
<line x1="211.50" y1="111.50" x2="211.50" y2="173.60" stroke="#1e1e1e" stroke-width="1.0" />
<line x1="211.50" y1="176.60" x2="211.50" y2="180.50" stroke="#1e1e1e" stroke-width="1.0" />
<line x1="211.50" y1="183.50" x2="211.50" y2="202.00" stroke="#1e1e1e" stroke-width="1.0" />
<line x1="211.50" y1="205.00" x2="211.50" y2="209.00" stroke="#1e1e1e" stroke-width="1.0" />
<line x1="211.50" y1="212.00" x2="211.50" y2="229.00" stroke="#1e1e1e" stroke-width="1.0" />
<line x1="140.50" y1="46.60" x2="140.50" y2="143.00" stroke="#1e1e1e" stroke-width="1.0" />
<line x1="281.50" y1="46.60" x2="281.50" y2="143.00" stroke="#1e1e1e" stroke-width="1.0" />
<line x1="140.30" y1="53.50" x2="194.00" y2="53.50" stroke="#1e1e1e" stroke-width="1.0" />
<line x1="221.00" y1="53.50" x2="281.40" y2="53.50" stroke="#1e1e1e" stroke-width="1.0" />
<path d="M141.00,53.50 L146.50,52.20 L146.50,54.80 Z" fill="#1e1e1e"/>
<path d="M281.00,53.50 L275.50,54.80 L275.50,52.20 Z" fill="#1e1e1e"/>
<text x="195.90" y="55.30" font-size="9.27" textLength="23.10" lengthAdjust="spacingAndGlyphs" fill="#222" >90 dia.</text>
<line x1="212.00" y1="65.50" x2="226.00" y2="65.50" stroke="#1e1e1e" stroke-width="1.0" />
<path d="M212.00,65.40 L216.00,64.20 L216.00,66.60 Z" fill="#1e1e1e"/>
<text x="218.60" y="63.00" font-size="11.19" textLength="6.30" lengthAdjust="spacingAndGlyphs" fill="#222" font-size-adjust="none">C</text>
<line x1="212.00" y1="224.50" x2="226.00" y2="224.50" stroke="#1e1e1e" stroke-width="1.0" />
<path d="M212.00,224.60 L216.00,223.40 L216.00,225.80 Z" fill="#1e1e1e"/>
<text x="219.40" y="224.00" font-size="11.19" textLength="6.30" lengthAdjust="spacingAndGlyphs" fill="#222" >C</text>
<path d="M209.5,108 L209.5,126 M213.6,108 L213.6,126" fill="none" stroke="#111" stroke-width="0.9" />
<path d="M210.6,111.5 L210.6,126 M212.5,111.5 L212.5,126" fill="none" stroke="#333" stroke-width="0.6" />
<line x1="197.00" y1="110.50" x2="209.50" y2="110.50" stroke="#1e1e1e" stroke-width="1.0" />
<line x1="213.60" y1="110.50" x2="231.00" y2="110.50" stroke="#1e1e1e" stroke-width="1.0" />
<path d="M209.20,110.50 L204.70,111.60 L204.70,109.40 Z" fill="#1e1e1e"/>
<path d="M214.00,110.50 L218.50,109.40 L218.50,111.60 Z" fill="#1e1e1e"/>
<text x="220.50" y="109.00" font-size="9.27" textLength="11.50" lengthAdjust="spacingAndGlyphs" fill="#222" >2.8</text>
<line x1="209.50" y1="126.50" x2="299.30" y2="126.50" stroke="#1e1e1e" stroke-width="1.0" />
<line x1="209.50" y1="159.50" x2="299.30" y2="159.50" stroke="#1e1e1e" stroke-width="1.0" />
<line x1="293.50" y1="126.00" x2="293.50" y2="137.00" stroke="#1e1e1e" stroke-width="1.0" />
<line x1="293.50" y1="147.50" x2="293.50" y2="159.40" stroke="#1e1e1e" stroke-width="1.0" />
<path d="M293.60,126.50 L294.70,131.00 L292.50,131.00 Z" fill="#1e1e1e"/>
<path d="M293.60,159.00 L292.50,154.50 L294.70,154.50 Z" fill="#1e1e1e"/>
<text x="288.80" y="144.80" font-size="9.27" textLength="16.50" lengthAdjust="spacingAndGlyphs" fill="#222" >20.5</text>
<line x1="158.00" y1="197.00" x2="284.80" y2="67.50" stroke="#1e1e1e" stroke-width="1.0" />
<line x1="284.80" y1="67.50" x2="373.70" y2="67.50" stroke="#1e1e1e" stroke-width="1.0" />
<path d="M229.88,124.92 L227.90,128.59 L226.21,126.90 Z" fill="#1e1e1e"/>
<path d="M193.12,161.68 L195.10,158.01 L196.79,159.70 Z" fill="#1e1e1e"/>
<text x="0" y="0" font-size="9.2" fill="#222" transform="translate(168.8,181.5) rotate(-45)" textLength="28.5" lengthAdjust="spacingAndGlyphs">33 dia.</text>
<line x1="202.98" y1="126.32" x2="227.30" y2="174.80" stroke="#1e1e1e" stroke-width="1.0" />
<line x1="227.30" y1="174.50" x2="259.00" y2="174.50" stroke="#1e1e1e" stroke-width="1.0" />
<path d="M219.39,159.03 L216.52,155.99 L218.67,154.92 Z" fill="#1e1e1e"/>
<path d="M203.61,127.57 L206.48,130.61 L204.33,131.68 Z" fill="#1e1e1e"/>
<text x="227.50" y="172.20" font-size="9.27" textLength="32.00" lengthAdjust="spacingAndGlyphs" fill="#222" >22.2 dia.</text>
<text x="285.40" y="43.80" font-size="8.59" textLength="91.00" lengthAdjust="spacingAndGlyphs" fill="#222" >78 min. (Determined by the</text>
<text x="285.40" y="53.60" font-size="8.59" textLength="67.00" lengthAdjust="spacingAndGlyphs" fill="#222" >height of the Switch</text>
<text x="285.40" y="62.90" font-size="8.59" textLength="93.50" lengthAdjust="spacingAndGlyphs" fill="#222" >surface in the lock position.)</text>
<text x="4.50" y="672.00" font-size="11.3" textLength="30.50" lengthAdjust="spacingAndGlyphs" font-weight="bold" fill="#222" >Note:</text>
<text x="38.40" y="672.00" font-size="11.3" textLength="9.50" lengthAdjust="spacingAndGlyphs" font-weight="bold" fill="#222" >1.</text>
<text x="52.00" y="672.00" font-size="11.3" textLength="243.00" lengthAdjust="spacingAndGlyphs" fill="#222" >The dimensions of the Shroud conform to the</text>
<text x="52" y="685.5" font-size="11.3" fill="#222" textLength="288" lengthAdjust="spacingAndGlyphs">specifications of the SEMATECH <tspan font-style="italic">Application Guide for</tspan></text>
<text x="52.00" y="699.10" font-size="11.3" textLength="67.00" lengthAdjust="spacingAndGlyphs" font-style="italic" fill="#222" >SEMI S2-93.</text>
<text x="38.40" y="713.30" font-size="11.3" textLength="9.50" lengthAdjust="spacingAndGlyphs" font-weight="bold" fill="#222" >2.</text>
<text x="52.00" y="713.30" font-size="11.3" textLength="234.00" lengthAdjust="spacingAndGlyphs" fill="#222" >The Shroud is not provided with the Switch.</text>
<circle cx="210.60" cy="574.00" r="70.80" fill="none" stroke="#1a1a1a" stroke-width="1.0" />
<circle cx="210.60" cy="574.00" r="62.00" fill="none" stroke="#1a1a1a" stroke-width="1.5" />
<circle cx="210.60" cy="574.00" r="46.80" fill="none" stroke="#1a1a1a" stroke-width="1.0" />
<circle cx="210.60" cy="574.00" r="30.50" fill="none" stroke="#111" stroke-width="1.5" stroke-dasharray="1.3,0.5"/>
<text x="0" y="0" font-size="15.6" font-weight="bold" fill="#111" stroke="#111" stroke-width="0.55" text-anchor="middle" transform="translate(181.19,561.39) rotate(-66.8) scale(0.74,1.0)">E</text>
<text x="0" y="0" font-size="15.6" font-weight="bold" fill="#111" stroke="#111" stroke-width="0.55" text-anchor="middle" transform="translate(186.30,553.18) rotate(-49.4) scale(0.74,1.0)">M</text>
<text x="0" y="0" font-size="15.6" font-weight="bold" fill="#111" stroke="#111" stroke-width="0.55" text-anchor="middle" transform="translate(194.41,546.40) rotate(-30.4) scale(0.74,1.0)">E</text>
<text x="0" y="0" font-size="15.6" font-weight="bold" fill="#111" stroke="#111" stroke-width="0.55" text-anchor="middle" transform="translate(202.97,542.92) rotate(-13.8) scale(0.74,1.0)">R</text>
<text x="0" y="0" font-size="15.6" font-weight="bold" fill="#111" stroke="#111" stroke-width="0.55" text-anchor="middle" transform="translate(212.27,542.04) rotate(3.0) scale(0.74,1.0)">G</text>
<text x="0" y="0" font-size="15.6" font-weight="bold" fill="#111" stroke="#111" stroke-width="0.55" text-anchor="middle" transform="translate(221.23,543.82) rotate(19.4) scale(0.74,1.0)">E</text>
<text x="0" y="0" font-size="15.6" font-weight="bold" fill="#111" stroke="#111" stroke-width="0.55" text-anchor="middle" transform="translate(228.95,547.79) rotate(35.0) scale(0.74,1.0)">N</text>
<text x="0" y="0" font-size="15.6" font-weight="bold" fill="#111" stroke="#111" stroke-width="0.55" text-anchor="middle" transform="translate(235.33,553.69) rotate(50.6) scale(0.74,1.0)">C</text>
<text x="0" y="0" font-size="15.6" font-weight="bold" fill="#111" stroke="#111" stroke-width="0.55" text-anchor="middle" transform="translate(239.88,561.09) rotate(66.2) scale(0.74,1.0)">Y</text>
<text x="0" y="0" font-size="14.8" font-weight="bold" fill="#161616" stroke="#161616" stroke-width="0.4" text-anchor="middle" transform="translate(200.2,613.9) rotate(3)">O</text>
<text x="0" y="0" font-size="14.8" font-weight="bold" fill="#161616" stroke="#161616" stroke-width="0.4" text-anchor="middle" transform="translate(212.0,614.2) rotate(-3)">F</text>
<text x="0" y="0" font-size="14.8" font-weight="bold" fill="#161616" stroke="#161616" stroke-width="0.4" text-anchor="middle" transform="translate(221.6,613.6) rotate(-9)">F</text>
<path d="M187.80,580.11 A23.6,23.6 0 0,1 202.14,551.97 L201.07,549.17 L206.03,552.48 L204.36,557.76 L203.29,554.95 A20.4,20.4 0 0,0 190.90,579.28 Z" fill="none" stroke="#222" stroke-width="0.9" />
<path d="M217.50,551.43 A23.6,23.6 0 0,1 234.11,576.06 L237.10,576.32 L231.95,579.32 L227.93,575.52 L230.92,575.78 A20.4,20.4 0 0,0 216.56,554.49 Z" fill="none" stroke="#222" stroke-width="0.9" />
<path d="M227.29,590.69 A23.6,23.6 0 0,1 195.43,592.08 L193.50,594.38 L194.00,588.43 L199.42,587.33 L197.49,589.63 A20.4,20.4 0 0,0 225.02,588.42 Z" fill="none" stroke="#222" stroke-width="0.9" />
<rect x="422.50" y="523.50" width="94.00" height="2.00" fill="#fff" stroke="#1e1e1e" stroke-width="1.0" />
<line x1="469.50" y1="519.80" x2="469.50" y2="545.00" stroke="#1e1e1e" stroke-width="1.0" />
<rect x="448.00" y="540.00" width="42.60" height="2.00" fill="#111" stroke="#1e1e1e" stroke-width="0" />
<defs><pattern id="hatchw" patternUnits="userSpaceOnUse" width="4.2" height="4.2" patternTransform="rotate(35)"><rect width="4.2" height="4.2" fill="#fff"/><line x1="0" y1="0" x2="0" y2="4.2" stroke="#111" stroke-width="1.2"/></pattern></defs>
<path d="M399.3,551.3 Q399.3,547.3 403.3,547.3 L535.8,547.3 Q539.8,547.3 539.8,551.3 L539.8,606.7 L399.3,606.7 Z M408.4,547.3 L531,547.3 L531,599.1 Q531,603.6 526.5,603.6 L412.9,603.6 Q408.4,603.6 408.4,599.1 Z" fill="url(#hatchw)" stroke="#1e1e1e" stroke-width="0" fill-rule="evenodd" stroke="none"/>
<rect x="401.90" y="577.50" width="2.90" height="26.50" fill="#fff" stroke="#1e1e1e" stroke-width="0" />
<rect x="534.40" y="577.50" width="2.90" height="26.50" fill="#fff" stroke="#1e1e1e" stroke-width="0" />
<path d="M401.9,604 L401.9,579 Q401.9,577.5 403.35,577.5 Q404.8,577.5 404.8,579 L404.8,603.6" fill="none" stroke="#333" stroke-width="0.7" />
<path d="M534.4,603.6 L534.4,579 Q534.4,577.5 535.85,577.5 Q537.3,577.5 537.3,579 L537.3,604" fill="none" stroke="#333" stroke-width="0.7" />
<path d="M408.4,547.8 L408.4,599.1 Q408.4,603.6 412.9,603.6 L526.5,603.6 Q531,603.6 531,599.1 L531,547.8" fill="none" stroke="#111" stroke-width="1.0" />
<rect x="453.40" y="604.10" width="32.30" height="2.30" fill="#fff" stroke="#1e1e1e" stroke-width="0" />
<line x1="453.40" y1="604.50" x2="485.70" y2="604.50" stroke="#777" stroke-width="0.6" />
<path d="M399.3,606.7 L399.3,551.3 Q399.3,547.3 403.3,547.3 L535.8,547.3 Q539.8,547.3 539.8,551.3 L539.8,606.7 Z" fill="none" stroke="#111" stroke-width="1.0" />
<line x1="469.4" y1="549" x2="469.4" y2="672" stroke="#1e1e1e" stroke-width="0.9" stroke-dasharray="12,3,3,3"/>
<rect x="447.40" y="617.00" width="43.40" height="2.00" fill="#111" stroke="#1e1e1e" stroke-width="0" />
<rect x="391.50" y="628.50" width="157.00" height="2.00" fill="#fff" stroke="#1e1e1e" stroke-width="1.0" />
<line x1="392" y1="629.2" x2="547" y2="629.2" stroke="#555" stroke-width="0.6" stroke-dasharray="3,1.6"/>
<rect x="446.50" y="641.00" width="47.00" height="2.00" fill="#111" stroke="#1e1e1e" stroke-width="0" />
<path d="M447.5,641.4 L449,639.5 L452,639.5 L452.5,641.4" fill="none" stroke="#1e1e1e" stroke-width="0.7" />
<rect x="446.50" y="656.50" width="46.10" height="9.10" fill="#d8d8d8" stroke="#1e1e1e" stroke-width="0" />
<line x1="446.5" y1="657.5" x2="492.6" y2="657.5" stroke="#333" stroke-width="1" stroke-dasharray="6,0.8"/>
<line x1="446.5" y1="659.8" x2="492.6" y2="659.8" stroke="#333" stroke-width="1" stroke-dasharray="6,0.8"/>
<line x1="446.5" y1="662.1" x2="492.6" y2="662.1" stroke="#333" stroke-width="1" stroke-dasharray="6,0.8"/>
<line x1="446.5" y1="664.4" x2="492.6" y2="664.4" stroke="#333" stroke-width="1" stroke-dasharray="6,0.8"/>
<text x="296.50" y="561.90" font-size="9.49" textLength="61.50" lengthAdjust="spacingAndGlyphs" fill="#222" >Set model number</text>
<text x="296.50" y="570.70" font-size="9.49" textLength="35.50" lengthAdjust="spacingAndGlyphs" fill="#222" >A22Z-EG3</text>
<line x1="295.80" y1="574.50" x2="354.00" y2="574.50" stroke="#1e1e1e" stroke-width="1.0" />
<line x1="353.40" y1="575.10" x2="422.50" y2="526.00" stroke="#1e1e1e" stroke-width="0.8" />
<path d="M422.50,526.00 L419.58,529.67 L418.08,527.55 Z" fill="#1e1e1e"/>
<line x1="353.40" y1="575.10" x2="447.80" y2="540.70" stroke="#1e1e1e" stroke-width="0.8" />
<path d="M447.80,540.70 L444.02,543.46 L443.13,541.02 Z" fill="#1e1e1e"/>
<line x1="353.40" y1="575.10" x2="397.80" y2="580.00" stroke="#1e1e1e" stroke-width="0.8" />
<path d="M397.80,580.00 L393.18,580.80 L393.47,578.21 Z" fill="#1e1e1e"/>
<line x1="353.40" y1="575.10" x2="448.40" y2="641.60" stroke="#1e1e1e" stroke-width="0.8" />
<path d="M448.40,641.60 L443.97,640.08 L445.46,637.95 Z" fill="#1e1e1e"/>
<line x1="354.00" y1="574.90" x2="447.60" y2="617.70" stroke="#1e1e1e" stroke-width="0.8" />
<path d="M447.60,617.70 L443.73,617.03 L444.56,615.21 Z" fill="#1e1e1e"/>
<text x="515.50" y="497.00" font-size="8.81" textLength="42.70" lengthAdjust="spacingAndGlyphs" fill="#222" >Legend Plate</text>
<text x="515.50" y="505.80" font-size="8.81" textLength="111.50" lengthAdjust="spacingAndGlyphs" fill="#222" >(Provided with the Switch Guard)</text>
<line x1="514.50" y1="508.50" x2="630.80" y2="508.50" stroke="#1e1e1e" stroke-width="0.8" />
<line x1="496.70" y1="523.50" x2="514.50" y2="508.50" stroke="#1e1e1e" stroke-width="0.8" />
<path d="M496.70,523.50 L498.81,520.42 L500.10,521.94 Z" fill="#1e1e1e"/>
<text x="522.90" y="521.00" font-size="8.81" textLength="51.00" lengthAdjust="spacingAndGlyphs" fill="#222" >Rubber Packing</text>
<text x="522.90" y="530.00" font-size="8.81" textLength="79.80" lengthAdjust="spacingAndGlyphs" fill="#222" >(t=0.5, Rubber Packing)</text>
<line x1="521.30" y1="532.50" x2="605.60" y2="532.50" stroke="#1e1e1e" stroke-width="0.8" />
<line x1="490.80" y1="540.60" x2="521.30" y2="532.30" stroke="#1e1e1e" stroke-width="0.8" />
<path d="M490.80,540.60 L494.01,538.69 L494.54,540.62 Z" fill="#1e1e1e"/>
<text x="471.70" y="570.80" font-size="8.81" textLength="33.20" lengthAdjust="spacingAndGlyphs" fill="#222" >Portion A:</text>
<text x="471.70" y="579.50" font-size="8.81" textLength="45.40" lengthAdjust="spacingAndGlyphs" fill="#222" >Indented part</text>
<line x1="470.70" y1="582.50" x2="520.00" y2="582.50" stroke="#1e1e1e" stroke-width="0.8" />
<line x1="470.70" y1="582.20" x2="460.20" y2="602.10" stroke="#1e1e1e" stroke-width="0.8" />
<path d="M460.20,602.10 L461.00,598.45 L462.76,599.38 Z" fill="#1e1e1e"/>
<text x="556.50" y="579.50" font-size="8.81" textLength="46.30" lengthAdjust="spacingAndGlyphs" fill="#222" >E-Stop Shroud</text>
<line x1="554.90" y1="582.50" x2="606.00" y2="582.50" stroke="#1e1e1e" stroke-width="0.8" />
<line x1="554.90" y1="582.40" x2="540.30" y2="593.50" stroke="#1e1e1e" stroke-width="0.8" />
<path d="M540.30,593.50 L542.56,590.53 L543.77,592.12 Z" fill="#1e1e1e"/>
<text x="519.40" y="614.50" font-size="8.81" textLength="51.00" lengthAdjust="spacingAndGlyphs" fill="#222" >Rubber Packing</text>
<text x="519.40" y="623.60" font-size="8.81" textLength="80.60" lengthAdjust="spacingAndGlyphs" fill="#222" >(t=0.5, Rubber Packing)</text>
<line x1="517.70" y1="626.50" x2="602.00" y2="626.50" stroke="#1e1e1e" stroke-width="0.8" />
<line x1="490.80" y1="617.70" x2="517.70" y2="626.00" stroke="#1e1e1e" stroke-width="0.8" />
<path d="M490.80,617.70 L494.53,617.81 L493.95,619.72 Z" fill="#1e1e1e"/>
<text x="559.70" y="635.30" font-size="8.81" textLength="18.50" lengthAdjust="spacingAndGlyphs" fill="#222" >Panel</text>
<line x1="554.70" y1="638.50" x2="583.20" y2="638.50" stroke="#1e1e1e" stroke-width="0.8" />
<line x1="548.00" y1="629.60" x2="554.70" y2="638.70" stroke="#1e1e1e" stroke-width="0.8" />
<text x="393.10" y="642.40" font-size="8.81" textLength="30.80" lengthAdjust="spacingAndGlyphs" fill="#222" >Portion B</text>
<line x1="391.30" y1="645.50" x2="423.90" y2="645.50" stroke="#1e1e1e" stroke-width="0.8" />
<line x1="423.90" y1="645.10" x2="449.20" y2="630.30" stroke="#1e1e1e" stroke-width="0.8" />
<text x="519.40" y="647.10" font-size="8.81" textLength="42.50" lengthAdjust="spacingAndGlyphs" fill="#222" >Locking Ring</text>
<text x="519.40" y="657.20" font-size="8.81" textLength="56.50" lengthAdjust="spacingAndGlyphs" fill="#222" >(Rubber Packing)</text>
<line x1="517.70" y1="660.50" x2="596.70" y2="660.50" stroke="#1e1e1e" stroke-width="0.8" />
<line x1="493.50" y1="642.10" x2="517.70" y2="660.50" stroke="#1e1e1e" stroke-width="0.8" />
<path d="M493.50,642.10 L496.97,643.48 L495.76,645.07 Z" fill="#1e1e1e"/>
<text x="519.40" y="674.00" font-size="8.81" textLength="44.50" lengthAdjust="spacingAndGlyphs" fill="#222" >Mounting Nut</text>
<text x="519.40" y="684.00" font-size="8.81" textLength="115.00" lengthAdjust="spacingAndGlyphs" fill="#222" >(Provided with the Operation Unit)</text>
<line x1="517.70" y1="687.50" x2="638.70" y2="687.50" stroke="#1e1e1e" stroke-width="0.8" />
<line x1="492.60" y1="660.50" x2="517.70" y2="687.40" stroke="#1e1e1e" stroke-width="0.8" />
<path d="M492.60,660.50 L495.79,662.45 L494.32,663.81 Z" fill="#1e1e1e"/>
<text x="645.90" y="531.90" font-size="9.49" textLength="97.90" lengthAdjust="spacingAndGlyphs" fill="#222" >Panel Cutout Dimensions</text>
<circle cx="699.60" cy="577.40" r="17.70" fill="none" stroke="#1e1e1e" stroke-width="0.9" />
<line x1="676.70" y1="577.50" x2="721.90" y2="577.50" stroke="#1e1e1e" stroke-width="0.9" />
<line x1="699.6" y1="556.8" x2="699.6" y2="601.5" stroke="#1e1e1e" stroke-width="0.9" stroke-dasharray="9,2,2,2"/>
<line x1="679.10" y1="597.50" x2="720.50" y2="556.20" stroke="#1e1e1e" stroke-width="0.9" />
<line x1="720.50" y1="556.50" x2="757.30" y2="556.50" stroke="#1e1e1e" stroke-width="0.9" />
<path d="M712.12,564.88 L710.35,568.07 L708.93,566.65 Z" fill="#1e1e1e"/>
<path d="M687.08,589.92 L688.85,586.73 L690.27,588.15 Z" fill="#1e1e1e"/>
<text x="720.50" y="553.80" font-size="9.27" textLength="28.80" lengthAdjust="spacingAndGlyphs" fill="#222" >22.3 dia.</text>
<text x="750.30" y="549.50" font-size="4.6" textLength="8.00" lengthAdjust="spacingAndGlyphs" fill="#222" >+0.4</text>
<text x="752.50" y="555.00" font-size="4.6" textLength="3.00" lengthAdjust="spacingAndGlyphs" fill="#222" >0</text>
<text x="648.60" y="578.40" font-size="8.59" textLength="14.40" lengthAdjust="spacingAndGlyphs" fill="#222" >24.2</text>
<text x="663.20" y="576.60" font-size="5.4" textLength="10.00" lengthAdjust="spacingAndGlyphs" fill="#222" >±0.2</text>
<text x="712.50" y="601.90" font-size="9.27" textLength="15.50" lengthAdjust="spacingAndGlyphs" fill="#222" >1.7R</text>
<text x="728.50" y="597.00" font-size="5.5" textLength="10.50" lengthAdjust="spacingAndGlyphs" fill="#222" >+0.1</text>
<text x="730.00" y="603.00" font-size="5.5" textLength="3.50" lengthAdjust="spacingAndGlyphs" fill="#222" >0</text>
<line x1="701.60" y1="597.50" x2="709.50" y2="605.50" stroke="#1e1e1e" stroke-width="0.8" />
<line x1="709.50" y1="605.50" x2="744.40" y2="605.50" stroke="#1e1e1e" stroke-width="0.8" />
<path d="M701.60,597.50 L704.57,599.06 L703.16,600.47 Z" fill="#1e1e1e"/>
<path d="M697.6,594.9 L699.6,597.9 L701.6,594.9" fill="none" stroke="#1e1e1e" stroke-width="0.8" />
<rect x="637.80" y="611.50" width="136.20" height="41.50" fill="#e6e6e6" stroke="#1e1e1e" stroke-width="0" />
<line x1="637.80" y1="611.50" x2="774.00" y2="611.50" stroke="#111" stroke-width="1.6" />
<line x1="637.80" y1="653.50" x2="774.00" y2="653.50" stroke="#111" stroke-width="1.2" />
<line x1="637.80" y1="668.50" x2="774.00" y2="668.50" stroke="#111" stroke-width="1.2" />
<line x1="637.80" y1="684.50" x2="716.50" y2="684.50" stroke="#111" stroke-width="1.0" />
<line x1="637.80" y1="699.00" x2="774.00" y2="699.00" stroke="#111" stroke-width="1.6" />
<line x1="716.50" y1="611.50" x2="716.50" y2="699.00" stroke="#111" stroke-width="1.2" />
<text x="677.40" y="633.90" font-size="7.8" textLength="25.00" lengthAdjust="spacingAndGlyphs" font-weight="bold" text-anchor="middle" fill="#222" >Model</text>
<text x="744.40" y="620.50" font-size="7.8" textLength="35.00" lengthAdjust="spacingAndGlyphs" font-weight="bold" text-anchor="middle" fill="#222" >Allowable</text>
<text x="744.40" y="629.80" font-size="7.8" textLength="20.00" lengthAdjust="spacingAndGlyphs" font-weight="bold" text-anchor="middle" fill="#222" >panel</text>
<text x="744.40" y="638.50" font-size="7.8" textLength="39.00" lengthAdjust="spacingAndGlyphs" font-weight="bold" text-anchor="middle" fill="#222" >thickness</text>
<text x="744.40" y="647.40" font-size="7.8" textLength="20.00" lengthAdjust="spacingAndGlyphs" font-weight="bold" text-anchor="middle" fill="#222" >[mm]</text>
<text x="643.00" y="662.90" font-size="9.27" textLength="67.50" lengthAdjust="spacingAndGlyphs" fill="#222" >A22NE-PD series</text>
<text x="744.40" y="662.90" font-size="9.27" textLength="28.00" lengthAdjust="spacingAndGlyphs" text-anchor="middle" fill="#222" >1 to 1.8</text>
<text x="643.00" y="678.10" font-size="9.27" textLength="61.50" lengthAdjust="spacingAndGlyphs" fill="#222" >A22NE-P series</text>
<text x="744.40" y="686.00" font-size="9.27" textLength="28.00" lengthAdjust="spacingAndGlyphs" text-anchor="middle" fill="#222" >1 to 2.0</text>
<text x="643.00" y="694.00" font-size="9.27" textLength="46.50" lengthAdjust="spacingAndGlyphs" fill="#222" >A22E series</text>
</svg></body></html>
